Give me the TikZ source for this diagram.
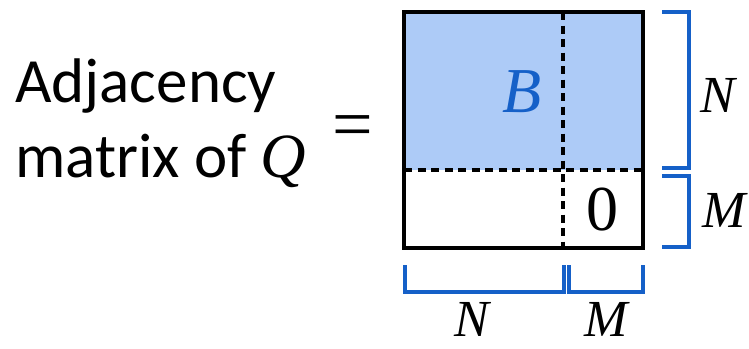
\documentclass[tikz,border=0pt]{standalone}
\usepackage{fontspec}
\setmainfont{Carlito}
\newfontfamily\mathserif{Liberation Serif}
\newcommand{\mv}[1]{{\mathserif\itshape #1}}
\definecolor{fillblue}{RGB}{173,203,247}
\definecolor{brblue}{RGB}{21,96,200}
\begin{document}
\begin{tikzpicture}[x=1pt,y=-1pt,
  brk/.style={draw=brblue,line width=3.6pt,line join=miter},
  dsh/.style={line width=3.2pt,dash pattern=on 8pt off 5.5pt},
  big/.style={font=\fontsize{63}{75}\selectfont,inner sep=0pt,anchor=base west},
  lbl/.style={font=\fontsize{52}{60}\selectfont,inner sep=0pt,anchor=base}]
\useasboundingbox (0,0) rectangle (749,348);
% matrix
\fill[fillblue] (404,12) rectangle (643,170);
\draw[dsh] (563,12) -- (563,248);
\draw[dsh] (404,170) -- (643,170);
\draw[line width=4pt] (404,12) rectangle (643,248);
\node[inner sep=0pt,anchor=base,font=\fontsize{64}{75}\selectfont,text=brblue] (B) at (522,112) {\mv{B}};
\node[inner sep=0pt,anchor=base,font=\fontsize{64}{75}\selectfont] (zero) at (602,230) {{\mathserif 0}};
% brackets
\draw[brk] (662,12) -- (689,12) -- (689,168) -- (662,168);
\draw[brk] (662,176) -- (689,176) -- (689,247) -- (662,247);
\draw[brk] (405,265) -- (405,292) -- (564,292) -- (564,265);
\draw[brk] (569,265) -- (569,292) -- (643,292) -- (643,265);
% labels
\node[lbl] (nr) at (718,112) {\mv{N}};
\node[lbl] (mr) at (724,227) {\mv{M}};
\node[lbl] (nb) at (472,336) {\mv{N}};
\node[lbl] (mb) at (606,336) {\mv{M}};
% left text
\node[big] (t1) at (15,102) {Adjacency};
\node[big] (t2) at (15,177) {matrix of \mv{Q}};
\node[inner sep=0pt,anchor=base,font=\fontsize{72}{75}\selectfont] (eq) at (353,148) {{\mathserif =}};
\end{tikzpicture}
\end{document}
